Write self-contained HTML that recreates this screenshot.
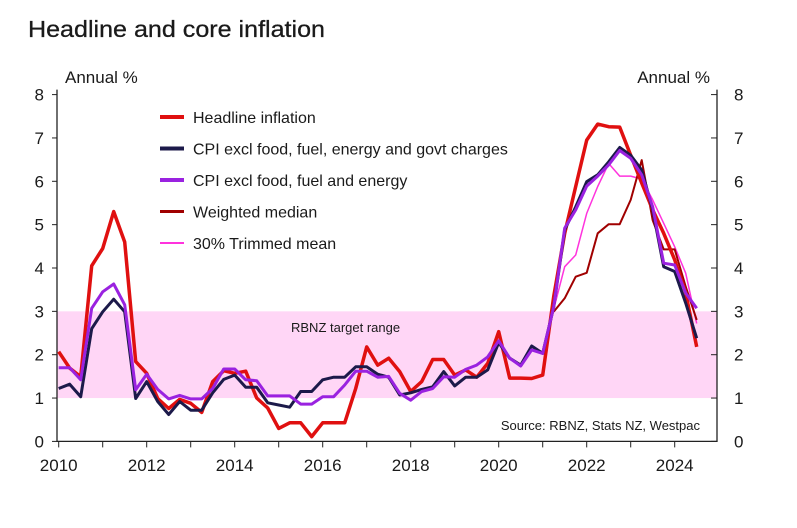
<!DOCTYPE html>
<html><head><meta charset="utf-8"><style>
body{margin:0;background:#fff;}
svg text{font-family:"Liberation Sans",Arial,sans-serif;fill:#1a1a1a;}
</style></head><body>
<svg width="797" height="523" viewBox="0 0 797 523" xmlns="http://www.w3.org/2000/svg">
<text x="28" y="37" font-size="23" textLength="297" lengthAdjust="spacingAndGlyphs" stroke="#1a1a1a" stroke-width="0.3">Headline and core inflation</text>
<g id="plot"></g>
</svg>
<script>
const yTicks=[0,1,2,3,4,5,6,7,8];
const xTickLabels=[2010,2012,2014,2016,2018,2020,2022,2024];
const headline=[2.07,1.69,1.49,4.05,4.45,5.3,4.6,1.84,1.57,0.99,0.76,0.97,0.88,0.67,1.38,1.63,1.57,1.62,1.0,0.77,0.3,0.43,0.43,0.11,0.43,0.43,0.43,1.22,2.18,1.76,1.92,1.61,1.15,1.38,1.89,1.89,1.53,1.65,1.48,1.8,2.53,1.46,1.46,1.45,1.53,3.34,4.8,5.88,6.95,7.32,7.26,7.25,6.6,5.96,5.34,4.8,4.19,3.42,2.18];
const coreExGovt=[1.22,1.32,1.03,2.6,2.99,3.28,2.99,0.99,1.38,0.92,0.62,0.92,0.72,0.72,1.12,1.43,1.53,1.25,1.25,0.89,0.84,0.79,1.15,1.15,1.42,1.48,1.48,1.72,1.72,1.55,1.48,1.07,1.12,1.2,1.26,1.61,1.28,1.48,1.48,1.65,2.28,1.92,1.76,2.2,2.03,3.1,4.88,5.41,5.99,6.15,6.45,6.78,6.6,6.26,5.34,4.03,3.92,3.19,2.38];
const coreExFood=[1.7,1.7,1.42,3.07,3.45,3.63,3.15,1.19,1.55,1.2,0.98,1.06,0.98,0.98,1.22,1.67,1.67,1.42,1.4,1.05,1.05,1.05,0.86,0.86,1.03,1.03,1.3,1.62,1.62,1.48,1.5,1.11,0.95,1.15,1.22,1.49,1.48,1.66,1.76,1.95,2.32,1.92,1.74,2.11,2.03,3.1,4.92,5.34,5.89,6.12,6.38,6.71,6.53,6.15,5.41,4.11,4.07,3.42,3.07];
const medianStart=45;
const weightedMedian=[2.99,3.3,3.8,3.89,4.8,5.01,5.01,5.57,6.49,5.1,4.43,4.43,3.57,2.8];
const trimmedMean=[3.05,4.03,4.3,5.26,5.88,6.41,6.12,6.12,6.05,5.57,5.03,4.49,3.88,2.72];

const NS="http://www.w3.org/2000/svg";
const L=57,R=717,T=94.6,B=441.4;
const xi=i=>58.7+11*i;
const xYear=y=>58.7+44*(y-2010);
const yv=v=>B-(v/8)*(B-T);
const g=document.getElementById('plot');
function mk(tag,attrs,parent){const e=document.createElementNS(NS,tag);for(const k in attrs)e.setAttribute(k,attrs[k]);(parent||g).appendChild(e);return e;}

const band=mk('rect',{x:L,y:yv(3),width:R-L,height:yv(1)-yv(3),fill:'#ffd6f6'});


const bl=mk('text',{x:291,y:332,'font-size':13});bl.textContent='RBNZ target range';



const ax=mk('path',{d:`M${L},${T-5}V${B}H${R}V${T-5}`,fill:'none',stroke:'#222','stroke-width':1.3});


yTicks.forEach(v=>{
  mk('line',{x1:L-5,x2:L,y1:yv(v),y2:yv(v),stroke:'#222'});
  mk('line',{x1:R-6,x2:R,y1:yv(v),y2:yv(v),stroke:'#222'});
  const t1=mk('text',{x:44,y:yv(v)+6,'font-size':17,'text-anchor':'end'});t1.textContent=v;
  
  
  const t2=mk('text',{x:734,y:yv(v)+6,'font-size':17});t2.textContent=v;
  
  
});
for(let y=2010;y<=2024;y++){mk('line',{x1:xYear(y),x2:xYear(y),y1:B,y2:B+6,stroke:'#222'});}
xTickLabels.forEach(y=>{const t=mk('text',{x:xYear(y),y:471,'font-size':17,'text-anchor':'middle'});t.textContent=y;
  
  });
const a1=mk('text',{x:65,y:83,'font-size':17});a1.textContent='Annual %';


const a2=mk('text',{x:710,y:83,'font-size':17,'text-anchor':'end'});a2.textContent='Annual %';


const src=mk('text',{x:700,y:430,'font-size':13,'text-anchor':'end'});src.textContent='Source: RBNZ, Stats NZ, Westpac';



function line(arr,start,color,w,name){
  const d=arr.map((v,i)=>(i?'L':'M')+xi(i+start).toFixed(1)+','+yv(v).toFixed(1)).join('');
  const p=mk('path',{d,fill:'none',stroke:color,'stroke-width':w,'stroke-linejoin':'round'});
  
  
}
line(trimmedMean,medianStart,'#ff33dd',1.5,'trimmed-mean-line');
line(weightedMedian,medianStart,'#a00000',2,'weighted-median-line');
line(headline,0,'#e01010',3.5,'headline-line');
line(coreExGovt,0,'#1c1a4a',3,'core-ex-govt-line');
line(coreExFood,0,'#9a22e0',3,'core-ex-food-line');

const leg=[['Headline inflation','#e01010',4],['CPI excl food, fuel, energy and govt charges','#1c1a4a',4],['CPI excl food, fuel and energy','#9a22e0',4],['Weighted median','#a00000',3],['30% Trimmed mean','#ff33dd',2]];
leg.forEach((e,i)=>{const y=117+31.5*i;
  mk('line',{x1:160,x2:184,y1:y,y2:y,stroke:e[1],'stroke-width':e[2]});
  const t=mk('text',{x:193,y:y+6,'font-size':16});t.textContent=e[0];
  
  
});
</script>
</body></html>
